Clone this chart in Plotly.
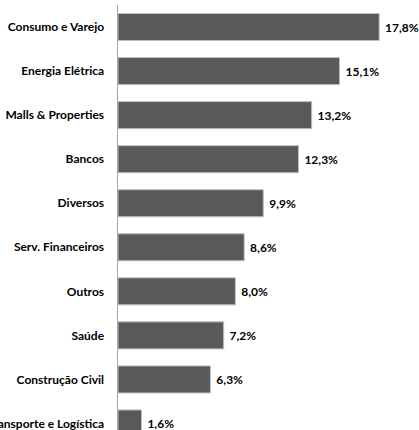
import plotly.graph_objects as go

categories = ["Consumo e Varejo", "Energia Elétrica", "Malls & Properties", "Bancos",
              "Diversos", "Serv. Financeiros", "Outros", "Saúde", "Construção Civil",
              "Transporte e Logística"]
values = [17.8, 15.1, 13.2, 12.3, 9.9, 8.6, 8.0, 7.2, 6.3, 1.6]
labels = ["17,8%", "15,1%", "13,2%", "12,3%", "9,9%", "8,6%", "8,0%", "7,2%", "6,3%", "1,6%"]

font_family = "Lato"

fig = go.Figure(go.Bar(
    x=values,
    y=categories,
    orientation="h",
    marker=dict(color="#595959", line=dict(color="#bfbfbf", width=1)),
    text=[" " + t for t in labels],
    textposition="outside",
    constraintext="none",
    textfont=dict(family=font_family, size=12, color="#000000", weight="bold"),
    cliponaxis=False,
    hoverinfo="skip",
))

fig.update_layout(
    width=419, height=430,
    margin=dict(l=118, r=9, t=5, b=0, autoexpand=False),
    paper_bgcolor="white", plot_bgcolor="white",
    bargap=0.386,
    showlegend=False,
    font=dict(family=font_family, size=12, color="#000000"),
)
fig.update_xaxes(range=[0, 19.9], visible=False, showgrid=False, zeroline=False,
                 automargin=False)
fig.update_yaxes(
    type="category",
    categoryorder="array", categoryarray=categories,
    range=[9.148, -0.5],
    showline=True, linecolor="#a6a6a6", linewidth=1.5,
    showgrid=False, zeroline=False, automargin=False,
    ticks="", ticklabelstandoff=10,
    tickfont=dict(family=font_family, size=12, color="#000000", weight="bold"),
)

fig.write_html("out.html",
               config={"displayModeBar": False, "staticPlot": True},
               post_script="document.body.style.margin='0';document.body.style.overflow='hidden';")
